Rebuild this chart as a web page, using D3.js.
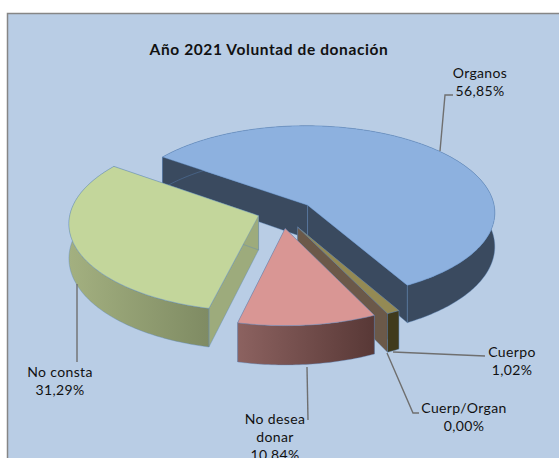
<!DOCTYPE html>
<html><head><meta charset="utf-8">
<script src="https://cdn.jsdelivr.net/npm/d3@7"></script>
<style>html,body{margin:0;padding:0;background:#fff;overflow:hidden}svg{display:block}
text{font-family:Lato,"Open Sans",sans-serif;fill:#111}</style></head><body>
<svg id="c" width="559" height="458"></svg>
<script>
const categories=["Organos","Cuerpo","Cuerp/Organ","No desea donar","No consta"];
const values=[56.85,1.02,0.00,10.84,31.29];
const titleText="Año 2021 Voluntad de donación";
const topColors=["#8DB1DF","#948A54","#7F7F7F","#D99694","#C3D69B"];
const wallStart=["#3A4A5F","#403A1C","#403A1C","#8C6260","#A3B080"];
const wallEnd=["#3A4A5F","#403A1C","#403A1C","#583836","#7F8B63"];
const cutColors=["#3A4A5F","#6B5949","#6B5949","#8C6260","#9DAB7C"];
const labelLines=[["Organos"],["Cuerpo"],["Cuerp/Organ"],["No desea","donar"],["No consta"]];
const labelPos=[[480,78],[512,357],[464,413],[275,424],[60,377]];
const leaders=[[[440,151],[445,95],[453,95]],[[393,352],[485,356]],[[387,353],[413,413],[419,413]],[[307,367],[308,420]],[[77,284],[77,362]]];
const nudges=[[0,-1],[-2,0],[-2,0],[-4,0],[0,-4]];

const svg=d3.select("#c");
const W=559,H=458,cx=286,cy=215,Rx=188,Ry=87,persp=0.08,depth=34,explode=0.155;
const pie=d3.pie().sort(null).startAngle(-54*Math.PI/180).endAngle((360-54)*Math.PI/180);
const arcs=pie(values);
const project=(u,v,z=0)=>{const s=1/(1-persp*v);return [cx+Rx*u*s,cy+Ry*v*s+z*depth*Math.pow(s,1.5)];};
const line=d3.line();
svg.append("rect").attr("x",7.5).attr("y",13.5).attr("width",W).attr("height",H).attr("fill","#B9CDE5").attr("stroke","#868686").attr("stroke-width",1.5);
const defs=svg.append("defs");
const order=[0,4,1,3];
order.forEach(i=>{
  const a=arcs[i],mid=(a.startAngle+a.endAngle)/2;
  const ox=explode*Math.sin(mid),oy=-explode*Math.cos(mid);
  const pt=(t,z=0,r=1)=>project(ox+r*Math.sin(t),oy-r*Math.cos(t),z);
  const n=Math.max(2,Math.ceil((a.endAngle-a.startAngle)*60));
  const ts=d3.range(n+1).map(k=>a.startAngle+(a.endAngle-a.startAngle)*k/n);
  const g=svg.append("g").attr("transform","translate("+nudges[i]+")");
  const edge={stroke:"#5B8AC0",so:0.55};
  const cut=(t,fill)=>g.append("path").attr("d",line([pt(t,0,0),pt(t,0),pt(t,1),pt(t,1,0)])+"Z").attr("fill",fill).attr("stroke",edge.stroke).attr("stroke-opacity",edge.so).attr("stroke-width",0.7);
  const xs=ts.map(t=>pt(t)[0]);
  const gid="g"+i;
  const gr=defs.append("linearGradient").attr("id",gid).attr("gradientUnits","userSpaceOnUse")
    .attr("x1",d3.min(xs)).attr("x2",d3.max(xs)).attr("y1",0).attr("y2",0);
  gr.append("stop").attr("offset",0).attr("stop-color",wallStart[i]);
  gr.append("stop").attr("offset",1).attr("stop-color",wallEnd[i]);
  cut(a.startAngle,cutColors[i]);
  cut(a.endAngle,cutColors[i]);
  const wall=ts.map(t=>pt(t,0)).concat(ts.slice().reverse().map(t=>pt(t,1)));
  g.append("path").attr("d",line(wall)+"Z").attr("fill","url(#"+gid+")").attr("stroke",edge.stroke).attr("stroke-opacity",edge.so).attr("stroke-width",0.7);
  const top=[pt(0,0,0)].concat(ts.map(t=>pt(t,0)));
  g.append("path").attr("d",line(top)+"Z").attr("fill",topColors[i]).attr("stroke",edge.stroke).attr("stroke-opacity",edge.so).attr("stroke-width",0.7);
});
leaders.forEach(l=>svg.append("path").attr("d",line(l)).attr("fill","none").attr("stroke","#6F6F6F").attr("stroke-width",1.4));
svg.append("text").attr("x",269).attr("y",55).attr("text-anchor","middle").attr("font-size",15.5).attr("letter-spacing",0.6).attr("font-weight",700).text(titleText);
const fmt=v=>v.toFixed(2).replace(".",",")+"%";
categories.forEach((c,i)=>{
  const [x,y]=labelPos[i];
  labelLines[i].concat(fmt(values[i])).forEach((t,k)=>{
    svg.append("text").attr("x",x).attr("y",y+k*18).attr("text-anchor","middle").attr("font-size",14).attr("letter-spacing",0.35).text(t);
  });
});
</script></body></html>
